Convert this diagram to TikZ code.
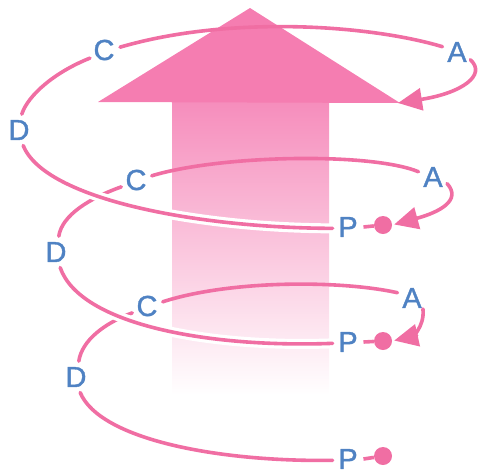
\documentclass[tikz,border=0pt]{standalone}
\usepackage{fontspec}
\newfontfamily\lblfont[FakeBold=1.2]{Liberation Sans}
\usetikzlibrary{arrows.meta}
\definecolor{linepink}{HTML}{F06EA3}
\definecolor{headpink}{HTML}{F57DB1}
\definecolor{shaftpink}{HTML}{F68DBC}
\definecolor{shaftmid}{HTML}{F9C2DB}
\definecolor{lblblue}{HTML}{4F82C3}
\tikzset{
  lbl/.style={circle,inner sep=1pt,minimum size=30pt,text=lblblue,font=\lblfont\fontsize{29}{29}\selectfont},
  dotnode/.style={circle,fill=linepink,inner sep=0pt,minimum size=18pt},
  spiral/.style={draw=linepink,line width=3.6pt,line cap=round},
  front/.style={spiral,preaction={draw=white,line width=10pt,line cap=butt}},
  cyc/.style={spiral,-{Triangle[length=24pt,width=22pt]}},
}
\begin{document}
\begin{tikzpicture}[x=1pt,y=-1pt]
\useasboundingbox (0,0) rectangle (479,475);
% big arrow
\shade[top color=shaftpink,middle color=shaftmid,bottom color=white] (172,101) rectangle (329,395);
\fill[headpink] (98,102) -- (250,8) -- (400,103) -- cycle;
% labels
\node[lbl] (A1) at (457,52) {A};
\node[lbl] (C1) at (104,50) {C};
\node[lbl] (D1) at (19,130) {D};
\node[lbl] (P1) at (348,227) {P};
\node[dotnode] (d1) at (383,225) {};
\node[lbl] (A2) at (433,177) {A};
\node[lbl] (C2) at (136,180) {C};
\node[lbl] (D2) at (56,252) {D};
\node[lbl] (P2) at (348,342) {P};
\node[dotnode] (d2) at (383,341) {};
\node[lbl] (A3) at (412,298) {A};
\node[lbl] (C3) at (147,306) {C};
\node[lbl] (D3) at (76,377) {D};
\node[lbl] (P3) at (348,459) {P};
\node[dotnode] (d3) at (383,456) {};
\coordinate (tip1) at (398,103);
% back lines
\draw[spiral] (A1.160) .. controls (370,25) and (230,15) .. (C1.10);
\draw[spiral] (C1.210) .. controls (55,72) and (28,95) .. (D1.80);
\draw[spiral] (A2.160) .. controls (370,152) and (220,155) .. (C2.15);
\draw[spiral] (C2.205) .. controls (90,198) and (62,215) .. (D2.80);
\draw[spiral] (A3.160) .. controls (340,280) and (230,280) .. (C3.15);
\draw[spiral] (C3.205) .. controls (105,323) and (82,340) .. (D3.80);
% front lines
\draw[front] (D1.-75) .. controls (45,200) and (200,228) .. (P1.185);
\draw[front] (D2.-75) .. controls (80,325) and (210,348) .. (P2.185);
\draw[front] (D3.-75) .. controls (100,440) and (220,462) .. (P3.185);
% P to dot
\draw[spiral,line cap=butt] (P1.east) -- (d1);
\draw[spiral,line cap=butt] (P2.east) -- (d2);
\draw[spiral,line cap=butt] (P3.east) -- (d3);
% cycle arrows
\draw[cyc] (A1.-30) .. controls (487,75) and (462,93) .. (tip1);
\draw[cyc,shorten >=2pt] (A2.-25) .. controls (462,200) and (440,212) .. (d1.east);
\draw[cyc,shorten >=2pt] (A3.-45) .. controls (425,328) and (410,337) .. (d2.east);
\end{tikzpicture}
\end{document}
